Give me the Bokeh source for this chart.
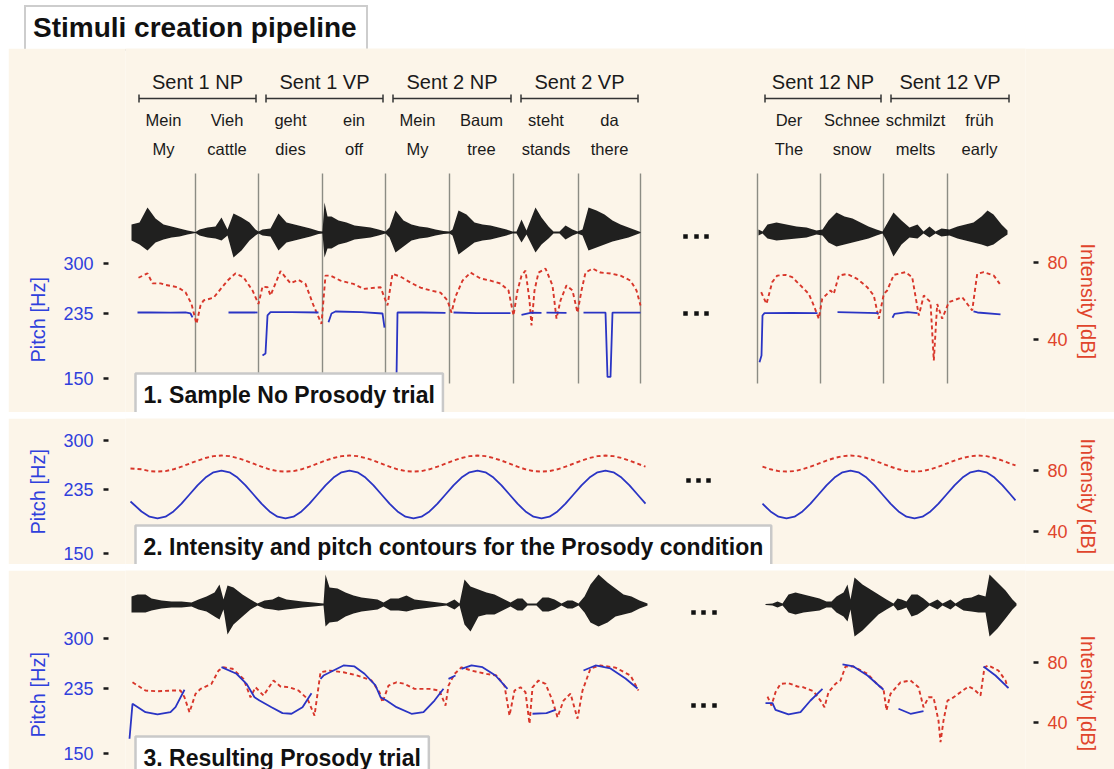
import numpy as np
from bokeh.plotting import figure
from bokeh.models import Range1d, LinearAxis, FixedTicker, Label, Div, Title
from bokeh.layouts import column
from bokeh.embed import file_html
from bokeh.resources import INLINE
from bokeh.core.properties import value

FONT = "Liberation Sans"
BG = "#fcf5e9"
BLUE_TXT = "#2f40dc"
BLUE_LN = "#2a34c4"
RED_TXT = "#e0442c"
RED_LN = "#d8362a"

# ---------------- data (time axis in centiseconds) ----------------
phrase_labels = ["Sent 1 NP", "Sent 1 VP", "Sent 2 NP", "Sent 2 VP", "Sent 12 NP", "Sent 12 VP"]
phrase_start = [0, 127, 254, 382, 626, 752]
phrase_end = [127, 254, 382, 509, 752, 880]
words_de = ["Mein", "Vieh", "geht", "ein", "Mein", "Baum", "steht", "da",
            "Der", "Schnee", "schmilzt", "früh"]
words_en = ["My", "cattle", "dies", "off", "My", "tree", "stands", "there",
            "The", "snow", "melts", "early"]
word_start = [0, 64, 127, 191, 254, 318, 382, 447, 626, 689, 752, 816]
word_end = [64, 127, 191, 254, 318, 382, 447, 509, 689, 752, 816, 880]
boundaries = [64, 127, 191, 254, 318, 382, 447, 509, 626, 689, 752, 816]

pitch_ticks = [150, 235, 300]
intensity_ticks = [40, 80]

# ---- Panel 1: sample No Prosody trial ----
w1_t = [0, 8, 16, 24, 32, 40, 48, 56, 64, 68, 76, 84, 90, 96, 102, 110, 118, 124, 127, 131,
        139, 147, 155, 163, 171, 179, 187, 191, 193, 196, 200, 207, 215, 223, 231, 239, 247, 254, 258, 264,
        272, 280, 288, 296, 304, 312, 318, 321, 327, 335, 343, 351, 359, 367, 375, 381, 385, 390, 395, 404,
        410, 417, 422, 428, 434, 441, 446, 451, 457, 465, 473, 481, 489, 497, 505, 509]
w1_up = [8, 10, 25, 14, 8, 6, 4, 2, 0.5, 3, 5, 6, 15, 3, 19, 15, 10, 3, 1, 3,
         4, 19, 10, 8, 6, 4, 1.5, 1, 30, 16, 16, 12, 10, 7, 6, 5, 3, 1, 5, 22,
         12, 8, 6, 5, 3, 1.5, 1, 3, 22, 18, 10, 8, 7, 5, 3, 1, 1, 13, 2, 25,
         15, 6, 1, 1, 7, 3, 1, 3, 25, 22, 18, 12, 8, 5, 2, 0.5]
w1_dn = [8, 12, 18, 10, 7, 5, 4, 2, 0.5, 3, 5, 6, 8, 3, 25, 18, 8, 3, 1, 3,
         4, 18, 10, 8, 6, 4, 1.5, 1, 25, 16, 16, 12, 10, 7, 6, 5, 3, 1, 5, 20,
         14, 8, 6, 5, 3, 1.5, 1, 3, 22, 16, 10, 8, 7, 5, 3, 1, 1, 10, 2, 20,
         12, 6, 1, 1, 7, 3, 1, 3, 18, 15, 12, 9, 7, 5, 2, 0.5]
w1r_t = [627, 631, 636, 645, 655, 665, 675, 685, 691, 697, 705, 713, 721, 729, 737, 745, 751, 755, 762, 770,
         778, 786, 792, 798, 804, 810, 818, 826, 834, 842, 850, 856, 862, 870, 876]
w1r_up = [3, 1, 8, 10, 8, 6, 5, 2, 3, 12, 20, 16, 14, 10, 6, 3, 1, 8, 20, 12,
          5, 8, 1, 6, 1, 4, 3, 6, 8, 10, 16, 22, 18, 8, 2]
w1r_dn = [3, 1, 6, 8, 7, 6, 5, 2, 3, 10, 14, 12, 10, 8, 6, 3, 1, 8, 24, 12,
          5, 6, 1, 5, 1, 4, 3, 6, 8, 10, 12, 14, 12, 6, 2]

p1_pitch_t = [[6, 19, 39, 54, 59, 61], [97, 126], [131, 134, 136, 139, 160, 187],
              [197, 200, 204, 230, 251, 253], [265, 266, 290, 314], [322, 345, 379],
              [390, 400, 410], [415, 435], [452, 474, 476, 479, 481, 509],
              [628, 630, 631, 633, 660, 686], [706, 747], [761, 763, 776, 786], [842, 846, 869]]
p1_pitch_hz = [[236.1, 236.1, 235.8, 236.1, 234.8, 229.6], [236.1, 236.1],
               [180.0, 182.6, 232.2, 236.5, 236.5, 236.1],
               [223.4, 234.8, 237.4, 236.5, 234.8, 216.5], [151.0, 236.1, 236.1, 235.5],
               [236.1, 235.2, 235.2], [233.0, 236.0, 235.5], [236.0, 235.5],
               [236.0, 236.0, 152.0, 152.0, 236.0, 236.0],
               [171.3, 180.0, 232.2, 235.2, 235.5, 235.2], [236.5, 235.2],
               [229.2, 234.4, 236.5, 235.2], [237.4, 236.1, 233.5]]
p1_int_t = [[7, 16, 21, 29, 34, 46, 54, 60, 65, 69, 72, 82, 96, 104, 112, 121, 127, 131, 136, 139,
             149, 159, 167, 174, 182, 190, 194, 199, 209, 222, 232, 249, 256, 261, 269, 279, 289, 299, 309, 316,
             320, 324, 331, 339, 349, 359, 369, 377, 382, 386, 390, 394, 398, 400, 403, 407, 414, 421, 425, 429,
             435, 441, 446, 450, 454, 461, 469, 479, 489, 499, 505, 509],
            [629.7, 635, 640.7, 645.7, 654, 660.7, 669, 677.3, 682.3, 687.3, 690.7, 699, 702.3, 707.3, 715.7,
             725.7, 735.7, 742.3, 747.3, 752.3, 755.7, 762.3, 774, 780.7, 787.3, 792.3, 799, 802.3, 805.7,
             810.7, 817.3, 830.7, 840.7, 845.7, 852.3, 862.3, 868.3]]
p1_int_db = [[72.1, 74.4, 69.2, 69.2, 68.4, 67.2, 64.6, 58.5, 48.2, 57.7, 60.3, 61.7, 70.6, 74.4, 72.4, 65.5,
              58.5, 67.5, 67.2, 62.9, 75.5, 69.2, 71.0, 68.9, 57.7, 48.2, 73.2, 73.2, 70.6, 68.9, 66.3, 67.2,
              57.7, 74.1, 72.7, 69.6, 67.0, 65.5, 64.4, 60.3, 54.0, 62.3, 70.6, 74.8, 71.7, 70.6, 69.1, 65.5,
              52.5, 65.5, 73.2, 75.8, 60.3, 47.3, 65.5, 74.8, 76.9, 68.1, 50.9, 60.3, 68.1, 65.5, 54.0, 65.5,
              74.8, 76.9, 74.8, 74.3, 73.2, 70.6, 65.5, 57.7],
             [64.6, 58.5, 69.8, 73.2, 73.6, 72.4, 68.1, 63.7, 57.7, 50.8, 61.1, 65.5, 63.7, 73.2, 74.1, 71.5,
              67.2, 62.9, 50.8, 63.7, 65.5, 73.6, 75.0, 72.4, 52.5, 62.9, 59.4, 29.1, 58.5, 50.8, 59.4, 62.0,
              55.1, 74.1, 75.0, 73.2, 68.9]]

# ---- Panel 2: target contours for the Prosody condition ----
p2_t = [[-1, 10, 18, 26, 34, 42, 50, 58, 66, 74, 82, 90, 98, 106, 114, 122, 130, 138, 146, 154, 162, 170,
         178, 186, 194, 202, 210, 218, 226, 234, 242, 250, 258, 266, 274, 282, 290, 298, 306, 314, 322, 330,
         338, 346, 354, 362, 370, 378, 386, 394, 402, 410, 418, 426, 434, 442, 450, 458, 466, 474, 482, 490,
         498, 506, 514],
        [631, 639, 647, 655, 663, 671, 679, 687, 695, 703, 711, 719, 727, 735, 743, 751, 759, 767, 775, 783,
         791, 799, 807, 815, 823, 831, 839, 847, 855, 863, 871, 879, 884]]
p2_pitch_hz = [[219.0, 205.8, 198.9,
                196.5, 198.9, 205.8, 216.1, 228.3, 240.5, 250.8, 257.7, 260.1, 257.7, 250.8, 240.5, 228.3, 216.1, 205.8, 198.9,
                196.5, 198.9, 205.8, 216.1, 228.3, 240.5, 250.8, 257.7, 260.1, 257.7, 250.8, 240.5, 228.3, 216.1, 205.8, 198.9,
                196.5, 198.9, 205.8, 216.1, 228.3, 240.5, 250.8, 257.7, 260.1, 257.7, 250.8, 240.5, 228.3, 216.1, 205.8, 198.9,
                196.5, 198.9, 205.8, 216.1, 228.3, 240.5, 250.8, 257.7, 260.1, 257.7, 250.8, 240.5, 228.3, 216.1],
               [216.1, 205.8, 198.9, 196.5, 198.9, 205.8, 216.1, 228.3, 240.5, 250.8, 257.7, 260.1, 257.7, 250.8,
                240.5, 228.3, 216.1, 205.8, 198.9, 196.5, 198.9, 205.8, 216.1, 228.3, 240.5, 250.8, 257.7, 260.1,
                257.7, 250.8, 240.5, 228.3, 220.6]]
p2_int_db = [[81.3, 80.8, 79.6,
              79.3, 79.6, 80.8, 82.5, 84.5, 86.5, 88.2, 89.4, 89.8, 89.4, 88.2, 86.5, 84.5, 82.5, 80.8, 79.6,
              79.3, 79.6, 80.8, 82.5, 84.5, 86.5, 88.2, 89.4, 89.8, 89.4, 88.2, 86.5, 84.5, 82.5, 80.8, 79.6,
              79.3, 79.6, 80.8, 82.5, 84.5, 86.5, 88.2, 89.4, 89.8, 89.4, 88.2, 86.5, 84.5, 82.5, 80.8, 79.6,
              79.3, 79.6, 80.8, 82.5, 84.5, 86.5, 88.2, 89.4, 89.8, 89.4, 88.2, 86.5, 84.5, 82.5],
             [82.5, 80.8, 79.6, 79.3, 79.6, 80.8, 82.5, 84.5, 86.5, 88.2, 89.4, 89.8, 89.4, 88.2, 86.5, 84.5,
              82.5, 80.8, 79.6, 79.3, 79.6, 80.8, 82.5, 84.5, 86.5, 88.2, 89.4, 89.8, 89.4, 88.2, 86.5, 84.5, 83.3]]

# ---- Panel 3: resulting Prosody trial ----
w3_t = [0, 6, 14, 20, 30, 40, 50, 60, 67, 75, 83, 88, 92, 96, 102, 111, 119, 126, 133, 141,
        147, 155, 163, 171, 182, 192, 194, 198, 206, 214, 222, 230, 238, 246, 252, 259, 267, 275, 283, 291,
        299, 307, 315, 323, 328, 333, 339, 347, 355, 363, 371, 379, 386, 391, 396, 405, 411, 417, 423, 430,
        436, 441, 447, 453, 459, 467, 476, 484, 492, 500, 508, 516]
w3_up = [8, 10, 10, 6, 4, 3, 3, 2, 5, 8, 12, 20, 5, 19, 17, 10, 5, 1, 4, 5,
         8, 5, 4, 3, 2, 1, 30, 17, 16, 12, 9, 7, 6, 5, 2, 6, 6, 9, 5, 4,
         3, 2, 1, 5, 1, 25, 18, 15, 12, 10, 6, 2, 6, 6, 1, 1, 7, 7, 5, 1,
         4, 4, 1, 8, 20, 30, 22, 16, 10, 8, 4, 1]
w3_dn = [8, 8, 8, 6, 4, 3, 3, 2, 5, 7, 12, 15, 5, 30, 20, 12, 5, 1, 4, 5,
         6, 5, 4, 3, 2, 1, 22, 18, 17, 12, 9, 7, 6, 5, 2, 6, 6, 7, 5, 4,
         3, 2, 1, 5, 1, 20, 27, 12, 10, 10, 6, 2, 6, 6, 1, 1, 7, 7, 5, 1,
         4, 4, 1, 8, 18, 22, 18, 12, 10, 8, 4, 1]
w3r_t = [634, 641, 646, 651, 657, 664, 672, 680, 688, 695, 700, 705, 712, 716, 719, 723, 731, 739, 747, 755,
         762, 766, 770, 775, 780, 786, 792, 798, 806, 811, 819, 824, 832, 840, 847, 854, 858, 866, 874, 881, 885]
w3r_up = [0.5, 1, 3, 1, 10, 12, 10, 8, 6, 3, 3, 8, 12, 20, 5, 27, 20, 15, 10, 5,
          1, 6, 5, 3, 10, 10, 6, 1, 5, 1, 5, 1, 6, 7, 10, 8, 30, 22, 14, 5, 1]
w3r_dn = [0.5, 1, 3, 1, 8, 10, 8, 7, 6, 3, 3, 8, 12, 17, 5, 32, 26, 18, 10, 5,
          1, 6, 5, 3, 12, 10, 6, 1, 5, 1, 5, 1, 6, 7, 8, 8, 32, 24, 14, 5, 1]

p3_pitch_t = [[-2, 1, 14, 26, 39, 44, 53], [90, 105, 115, 123, 128, 140, 151, 160, 171, 180],
              [189, 192, 212, 223, 233, 244, 249, 255, 265, 280, 292, 303, 312], [317, 324],
              [330, 340, 351, 364, 376], [401, 415, 424], [452, 464, 479, 494, 506],
              [634, 641, 644, 657, 669, 679, 691], [711, 722, 736, 752], [767, 779, 792], [852, 864, 877]]
p3_pitch_hz = [[169.2, 214.8, 203.9, 200.9, 203.9, 210.4, 233.1],
               [262.6, 254.0, 240.9, 223.4, 219.1, 210.4, 202.6, 201.8, 210.4, 228.7],
               [247.4, 251.7, 264.8, 263.5, 254.0, 238.7, 223.4, 219.1, 210.4, 201.8, 203.9, 219.1, 234.4],
               [247.4, 251.7], [260.5, 264.8, 262.6, 251.7, 234.4], [201.8, 202.6, 207.0],
               [258.3, 264.8, 260.9, 247.8, 234.8],
               [215.6, 215.6, 207.0, 200.9, 203.9, 219.1, 234.4], [266.1, 263.5, 251.7, 233.1],
               [208.3, 201.8, 205.2], [263.5, 251.7, 235.2]]
p3_int_t = [[1, 14, 26, 40, 49, 53, 58, 64, 69, 80, 87, 92, 101, 112, 119, 124, 132, 142, 149, 158,
             167, 176, 183, 189, 198, 212, 226, 240, 248, 251, 257, 265, 273, 283, 298, 308, 314, 317, 323, 330,
             340, 355, 365, 373, 378, 383, 389, 394, 398, 401, 407, 414, 421, 426, 432, 439, 446, 451, 459, 469,
             484, 499, 507],
            [636, 640, 644, 649, 657, 666, 672, 682, 689, 693, 697, 704, 709, 714, 722, 736, 747, 752, 755, 759,
             769, 779, 787, 792, 797, 802, 807, 809, 812, 816, 822, 829, 837, 842, 849, 853, 857, 867, 874, 876]]
p3_int_db = [[66.8, 61.3, 60.8, 61.3, 61.3, 56.8, 46.8, 59.1, 62.4, 65.8, 74.6, 76.8, 75.8, 69.1, 56.8, 63.5,
              58.0, 68.0, 64.0, 63.5, 61.3, 55.8, 44.6, 73.5, 74.6, 73.5, 71.3, 68.0, 60.2, 53.5, 64.6, 66.8,
              65.8, 62.4, 62.4, 61.3, 51.3, 64.6, 72.4, 76.8, 74.6, 72.4, 71.3, 64.6, 44.6, 61.3, 63.5, 60.2,
              39.1, 63.5, 68.0, 65.8, 54.6, 43.5, 54.6, 59.3, 42.6, 61.3, 76.0, 78.0, 76.6, 71.3, 61.3],
             [57.3, 51.3, 60.2, 65.8, 66.2, 64.0, 63.5, 60.8, 54.6, 50.2, 60.2, 65.8, 68.0, 77.3, 77.3, 72.4,
              64.6, 62.4, 48.0, 59.1, 66.8, 68.0, 63.5, 50.2, 56.8, 56.8, 41.3, 26.9, 41.3, 54.6, 56.8, 60.2,
              64.0, 62.4, 58.0, 76.8, 78.0, 74.6, 68.0, 63.5]]

panel_titles = ["1. Sample No Prosody trial",
                "2. Intensity and pitch contours for the Prosody condition",
                "3. Resulting Prosody trial"]


# ---------------- helpers ----------------
def style_axis(ax, color, ticks, tin, tout, standoff):
    ax.ticker = FixedTicker(ticks=ticks)
    ax.major_label_text_font = FONT
    ax.major_label_text_font_size = "18px"
    ax.major_label_text_color = color
    ax.major_label_standoff = standoff
    ax.major_tick_in = tin
    ax.major_tick_out = tout
    ax.major_tick_line_color = "#1a1a1a"
    ax.major_tick_line_width = 2.5
    ax.minor_tick_line_color = None
    ax.axis_line_color = None


def make_panel(h, pitch_rng, int_rng, wave_rng, top, off_pitch, off_int):
    p = figure(width=1106, height=h, x_range=Range1d(-6, 894), y_range=Range1d(*pitch_rng),
               output_backend="svg", toolbar_location=None, x_axis_location=None,
               y_axis_location="left", min_border_left=117, min_border_right=89,
               min_border_top=0, min_border_bottom=0, background_fill_color=BG,
               border_fill_color=BG, outline_line_color=None, margin=(top, 0, 0, 8))
    p.grid.visible = False
    p.extra_y_ranges = {"int": Range1d(*int_rng), "lab": Range1d(h, 0),
                        "wave": Range1d(*wave_rng)}
    style_axis(p.yaxis[0], BLUE_TXT, pitch_ticks, -17, 22, 10)
    rax = LinearAxis(y_range_name="int")
    style_axis(rax, RED_TXT, intensity_ticks, -8, 13, 9)
    p.add_layout(rax, "right")
    p.add_layout(Title(text="Pitch [Hz]", align="left", offset=off_pitch, standoff=24,
                       text_font=FONT, text_font_size="20px", text_font_style="normal",
                       text_color=BLUE_TXT), "left")
    p.add_layout(Title(text="Intensity [dB]", align="left", offset=off_int, standoff=13,
                       text_font=FONT, text_font_size="20px", text_font_style="normal",
                       text_color=RED_TXT), "right")
    return p


def panel_box(p, text, y):
    p.add_layout(Label(x=4, y=y, y_range_name="lab", text=text, text_align="left",
                       text_baseline="middle", text_font=FONT, text_font_size="23px",
                       text_font_style="bold", text_color="#111111", padding=8,
                       background_fill_color="white", border_line_color="#c9c9c9",
                       border_line_width=2.5))


def draw_wave(p, t, up, dn):
    p.varea(x=t, y1=-np.asarray(dn, dtype=float), y2=up, y_range_name="wave",
            fill_color="#141414", fill_alpha=0.95)


def draw_contours(p, pt, phz, it, idb):
    p.multi_line(xs=it, ys=idb, y_range_name="int", line_color=RED_LN, line_width=1.9,
                 line_dash="4 3")
    p.multi_line(xs=pt, ys=phz, line_color=BLUE_LN, line_width=1.8)


def dots(p, xs, y):
    p.scatter(x=xs, y=[y] * len(xs), y_range_name="lab", marker="square", size=4.5,
              fill_color="#111111", line_color=None)


# ---------------- title ----------------
title = Div(text=('<div style="display:inline-block;margin:5px 0 0 24px;padding:4px 9px 4px 7px;'
                  'border:2px solid #cdcdcd;background:#ffffff;font-family:\'Liberation Sans\';'
                  'font-weight:bold;font-size:28px;line-height:34px;color:#111;white-space:nowrap">'
                  'Stimuli creation pipeline</div>'),
            width=1114, height=48, margin=(0, 0, 0, 0))

# ---------------- panel 1 ----------------
p1 = make_panel(364, (105.65, 580.4), (2.1, 191.2), (-180, 184), 0, 50, 195)
bx0 = np.asarray(phrase_start) + 7.5
bx1 = np.asarray(phrase_end) - 2.5
p1.segment(x0=bx0, y0=50, x1=bx1, y1=50, y_range_name="lab", line_color="#333333", line_width=1.5)
p1.segment(x0=bx0, y0=46, x1=bx0, y1=54, y_range_name="lab", line_color="#333333", line_width=1.5)
p1.segment(x0=bx1, y0=46, x1=bx1, y1=54, y_range_name="lab", line_color="#333333", line_width=1.5)
p1.text(x=(bx0 + bx1) / 2, y=[33] * len(phrase_labels), text=phrase_labels, y_range_name="lab",
        text_align="center", text_baseline="middle", text_font=value(FONT),
        text_font_size="20px", text_color="#1a1a1a")
wc = (np.asarray(word_start) + np.asarray(word_end)) / 2
p1.text(x=wc, y=[71] * len(words_de), text=words_de, y_range_name="lab", text_align="center",
        text_baseline="middle", text_font=value(FONT), text_font_size="16.5px", text_color="#1a1a1a")
p1.text(x=wc, y=[100] * len(words_en), text=words_en, y_range_name="lab", text_align="center",
        text_baseline="middle", text_font=value(FONT), text_font_size="16.5px", text_color="#1a1a1a")
p1.segment(x0=boundaries, y0=125, x1=boundaries, y1=335, y_range_name="lab",
           line_color="#8c8c84", line_width=1.4)
draw_wave(p1, w1_t, w1_up, w1_dn)
draw_wave(p1, w1r_t, w1r_up, w1r_dn)
draw_contours(p1, p1_pitch_t, p1_pitch_hz, p1_int_t, p1_int_db)
dots(p1, [554, 565, 575], 188)
dots(p1, [554, 565, 575], 265)
panel_box(p1, panel_titles[0], 346)

# ---------------- panel 2 ----------------
p2 = make_panel(146, (135.4, 329.2), (18.36, 114.1), (-73, 73), 6, 30, 20)
draw_contours(p2, p2_t, p2_pitch_hz, p2_t, p2_int_db)
dots(p2, [557, 567, 577], 62)
panel_box(p2, panel_titles[1], 128)

# ---------------- panel 3 ----------------
p3 = make_panel(199, (129.1, 388.7), (8.7, 141.3), (-165, 34), 6, 32, 65)
draw_wave(p3, w3_t, w3_up, w3_dn)
draw_wave(p3, w3r_t, w3r_up, w3r_dn)
draw_contours(p3, p3_pitch_t, p3_pitch_hz, p3_int_t, p3_int_db)
dots(p3, [562, 572, 583], 42)
dots(p3, [562, 572, 583], 135)
panel_box(p3, panel_titles[2], 187)

layout = column(title, p1, p2, p3, spacing=0, margin=(0, 0, 0, 0))
open("out.html", "w", encoding="utf-8").write(file_html(layout, INLINE))
